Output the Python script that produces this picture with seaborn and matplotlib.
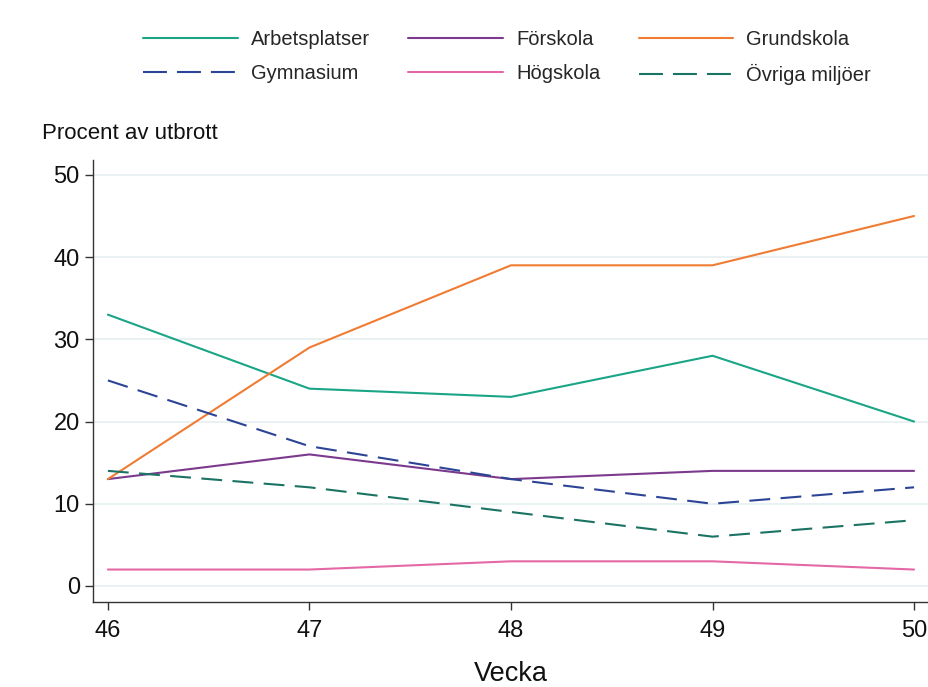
import matplotlib
matplotlib.use("Agg")
import matplotlib.pyplot as plt
import seaborn as sns
import pandas as pd
from matplotlib.lines import Line2D

weeks = [46, 47, 48, 49, 50]
arbetsplatser = [33, 24, 23, 28, 20]
forskola = [13, 16, 13, 14, 14]
grundskola = [13, 29, 39, 39, 45]
gymnasium = [25, 17, 13, 10, 12]
hogskola = [2, 2, 3, 3, 2]
ovriga = [14, 12, 9, 6, 8]

series_names = ["Arbetsplatser", "Förskola", "Grundskola", "Gymnasium", "Högskola", "Övriga miljöer"]
series_values = [arbetsplatser, forskola, grundskola, gymnasium, hogskola, ovriga]

rows = []
for name, vals in zip(series_names, series_values):
    for w, v in zip(weeks, vals):
        rows.append({"Vecka": w, "Procent": v, "Miljö": name})
df = pd.DataFrame(rows)

palette = {
    "Arbetsplatser": "#1aa587",
    "Förskola": "#7b3a8e",
    "Grundskola": "#f07b32",
    "Gymnasium": "#2c4496",
    "Högskola": "#e468a5",
    "Övriga miljöer": "#1a7363",
}
dashes = {
    "Arbetsplatser": "",
    "Förskola": "",
    "Grundskola": "",
    "Gymnasium": (10, 5),
    "Högskola": "",
    "Övriga miljöer": (10, 5),
}

sns.set_theme(style="white")
plt.rcParams["font.family"] = ["Liberation Sans", "DejaVu Sans"]

fig = plt.figure(figsize=(9.29, 6.87), dpi=100)
ax = fig.add_axes([0.1001, 0.1237, 0.899, 0.6433])

sns.lineplot(data=df, x="Vecka", y="Procent", hue="Miljö", style="Miljö",
             palette=palette, dashes=dashes, hue_order=series_names,
             style_order=series_names, linewidth=1.5, ax=ax, legend=False)

ax.set_xlim(45.926, 50.07)
ax.set_ylim(-1.95, 51.8)
ax.set_xticks(weeks)
ax.set_yticks([0, 10, 20, 30, 40, 50])
ax.yaxis.grid(True, color="#e6eff1", linewidth=1.2)
ax.xaxis.grid(False)
for s in ["top", "right"]:
    ax.spines[s].set_visible(False)
for s in ["left", "bottom"]:
    ax.spines[s].set_color("#333333")
    ax.spines[s].set_linewidth(1.0)
ax.tick_params(axis="both", which="both", direction="out", length=6, width=1,
               color="#333333", labelsize=17, labelcolor="#111111", bottom=True, left=True)
ax.tick_params(axis="x", pad=7)
ax.set_xlabel("Vecka", fontsize=19.5, labelpad=13.5, color="#111111")
ax.set_ylabel("")

fig.text(0.045, 0.806, "Procent av utbrott", fontsize=16, color="#111111", va="center", ha="left")

handles = []
for name in series_names:
    d = dashes[name]
    ls = "-" if d == "" else (0, (11.5, 4.8))
    handles.append(Line2D([], [], color=palette[name], linewidth=1.5, linestyle=ls))
order = [0, 3, 1, 4, 2, 5]
fig.legend([handles[i] for i in order], [series_names[i] for i in order],
           loc="upper center", bbox_to_anchor=(0.546, 0.982), ncol=3, frameon=False,
           fontsize=14.5, handlelength=4.7, handletextpad=0.65, columnspacing=1.9,
           labelspacing=0.7)

fig.savefig("out.png", dpi=100)
